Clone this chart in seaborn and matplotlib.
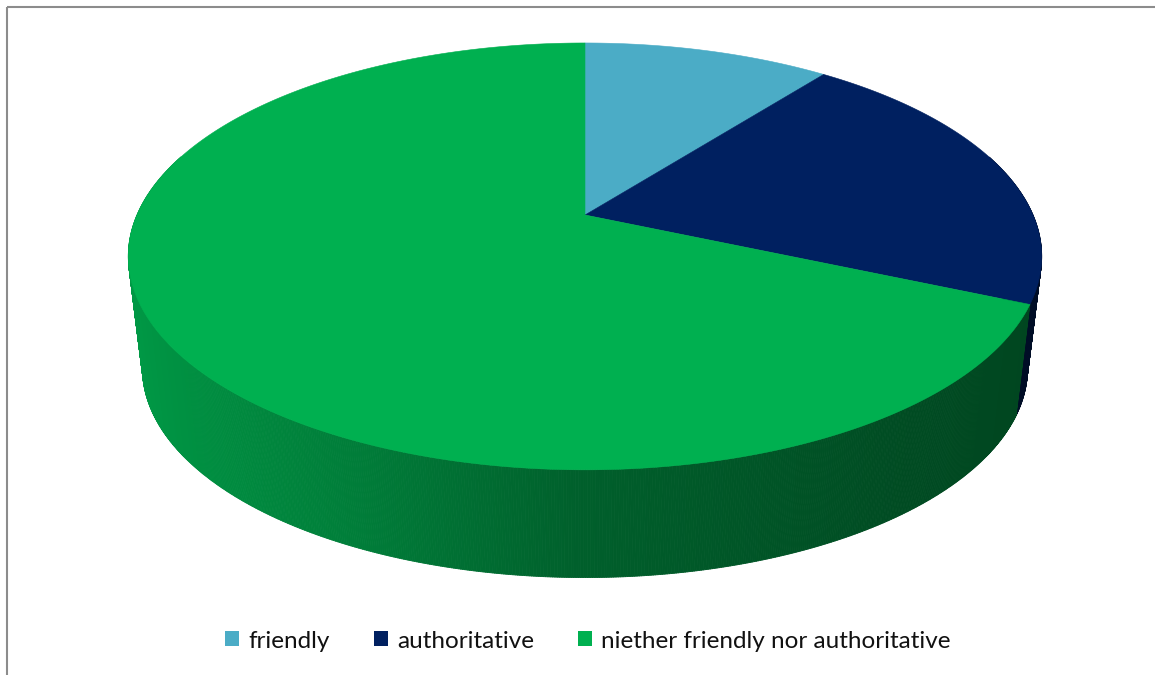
import numpy as np
import matplotlib
matplotlib.use("Agg")
import matplotlib.pyplot as plt
from matplotlib.collections import PolyCollection
from matplotlib.patches import Polygon, Patch
from matplotlib.colors import to_rgb
import seaborn as sns

# Survey responses: how the tone of the message was perceived
categories = ["friendly", "authoritative", "niether friendly nor authoritative"]
responses = [2, 4, 13]
slice_colors = ["#4BACC6", "#002060", "#00B050"]

sns.set_theme(style="white")
plt.rcParams["font.family"] = ["Lato", "DejaVu Sans"]
palette = sns.color_palette(slice_colors)

W, H = 1155, 675
fig = plt.figure(figsize=(W / 100, H / 100), dpi=100)
ax = fig.add_axes([0, 0, 1, 1])
ax.set_xlim(0, W)
ax.set_ylim(H, 0)
ax.axis("off")

# Tilted disc with mild perspective (pixel-space layout of the 3-D pie)
CX, CY = 585.0, 215.0     # screen position of the disc centre on the top face
RX, RY = 448.0, 205.4     # horizontal / vertical radius scale
K = 0.194                 # perspective strength (near edge appears larger)
RIM_SHRINK = 0.031        # bottom rim is slightly narrower
RIM_DROP = 112.0          # thickness of the pie on screen


def project(theta, z):
    """theta: clockwise angle from 12 o'clock (rad); z: 0 = top rim, 1 = bottom rim."""
    u = np.sin(theta)
    v = -np.cos(theta)
    w = 1 - K * v
    x = CX + RX * u / w
    y = CY + RY * v / w
    x = CX + (x - CX) * (1 - RIM_SHRINK * z)
    y = y + z * (RIM_DROP - 0.02 * (y - 256.0))
    return x, y


def side_shade(u):
    # light falls from the left: the rim darkens towards the right
    return np.interp(u, [-1.0, -0.42, 0.0, 0.6, 1.0], [0.88, 0.71, 0.54, 0.43, 0.39])


values = np.asarray(responses, dtype=float)
bounds = np.concatenate([[0.0], np.cumsum(values) / values.sum()]) * 2 * np.pi

# --- side wall -------------------------------------------------------------
quads, quad_cols, depth = [], [], []
for i, col in enumerate(palette):
    t0, t1 = bounds[i], bounds[i + 1]
    n = max(int((t1 - t0) / (2 * np.pi) * 1440), 2)
    ts = np.linspace(t0, t1, n + 1)
    for a, b in zip(ts[:-1], ts[1:]):
        m = 0.5 * (a + b)
        vm = -np.cos(m)
        if vm < -0.3:
            continue
        xa0, ya0 = project(a, 0)
        xb0, yb0 = project(b, 0)
        xa1, ya1 = project(a, 1)
        xb1, yb1 = project(b, 1)
        quads.append([(xa0, ya0), (xb0, yb0), (xb1, yb1), (xa1, ya1)])
        f = side_shade(np.sin(m))
        quad_cols.append(tuple(np.clip(np.array(to_rgb(col)) * f, 0, 1)))
        depth.append(vm)

order = np.argsort(depth)
pc = PolyCollection([quads[j] for j in order],
                    facecolors=[quad_cols[j] for j in order],
                    edgecolors=[quad_cols[j] for j in order],
                    linewidths=0.6, zorder=2)
ax.add_collection(pc)

# --- top face --------------------------------------------------------------
for i, col in enumerate(palette):
    t0, t1 = bounds[i], bounds[i + 1]
    ts = np.linspace(t0, t1, 400)
    xs, ys = project(ts, 0)
    pts = np.column_stack([np.r_[CX, xs], np.r_[CY, ys]])
    ax.add_patch(Polygon(pts, closed=True, facecolor=col, edgecolor=col,
                         linewidth=0.4, zorder=3))

# --- chart frame -----------------------------------------------------------
ax.plot([7, 7], [H, 7], color="#8c8c8c", lw=1.5, solid_capstyle="butt", zorder=5)
ax.plot([7, W], [7, 7], color="#8c8c8c", lw=1.5, solid_capstyle="butt", zorder=5)

# --- legend ----------------------------------------------------------------
handles = [Patch(facecolor=c, edgecolor="none") for c in palette]
fig.legend(handles, categories, loc="center",
           bbox_to_anchor=(588 / W, 1 - 641 / H), ncol=3, frameon=False,
           fontsize=17.5, handlelength=0.58, handleheight=0.58,
           handletextpad=0.38, columnspacing=1.8, labelcolor="#111111")

fig.savefig("out.png", dpi=100)
